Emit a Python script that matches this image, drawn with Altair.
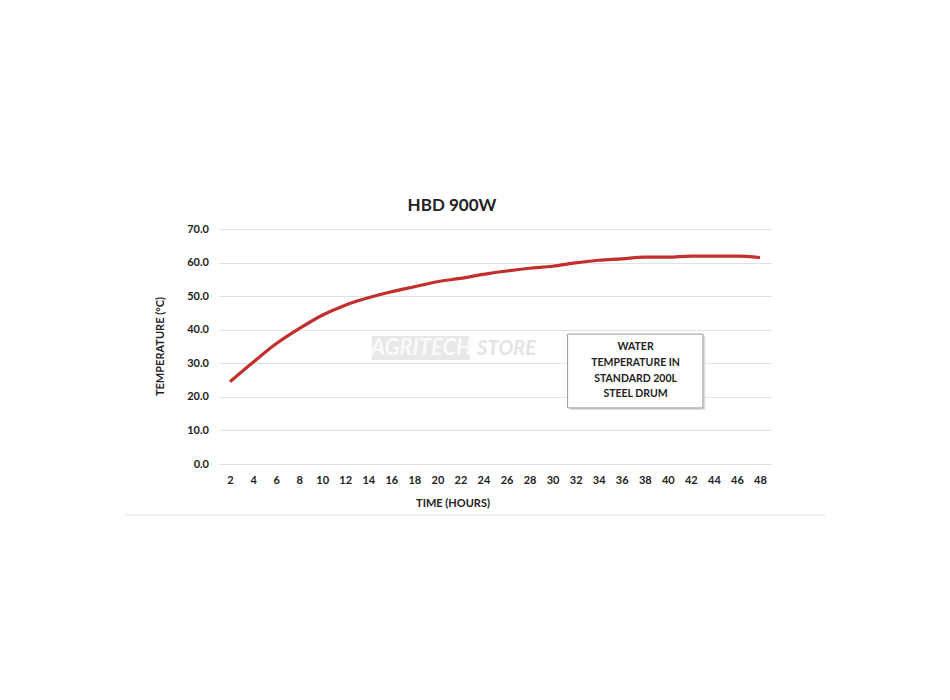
import altair as alt
import pandas as pd

# ---- data ----
hours = [2, 4, 6, 8, 10, 12, 14, 16, 18, 20, 22, 24, 26, 28, 30, 32, 34, 36, 38, 40, 42, 44, 46, 48]
temps = [24.5, 30.3, 35.8, 40.3, 44.3, 47.3, 49.5, 51.3, 52.8, 54.3, 55.3, 56.5,
         57.5, 58.3, 58.9, 59.9, 60.7, 61.1, 61.6, 61.6, 61.9, 61.9, 61.9, 61.5]
y_ticks = [0, 10, 20, 30, 40, 50, 60, 70]
note_lines = ["WATER", "TEMPERATURE IN", "STANDARD 200L", "STEEL DRUM"]

FONT = "Lato"
df = pd.DataFrame({"hours": hours, "temp": temps})

xscale = alt.Scale(domain=[1, 49], nice=False, zero=False)
yscale = alt.Scale(domain=[0, 70], nice=False)

X_AXIS = alt.Axis(values=hours, title="TIME (HOURS)", grid=False, ticks=False, domain=False,
                  labelOverlap=False, labelFont=FONT, labelFontWeight="bold", labelFontSize=11,
                  labelColor="#222", labelPadding=10, titleFont=FONT, titleFontWeight="bold",
                  titleFontSize=11, titleColor="#222", titleX=234, titleY=33,
                  titleAlign="center", titleBaseline="top")
Y_AXIS = alt.Axis(values=y_ticks, format=".1f", title="TEMPERATURE (°C)", grid=True,
                  gridColor="#e2e2e2", gridWidth=1, ticks=False, domain=False,
                  labelOverlap=False, labelFont=FONT, labelFontWeight="bold", labelFontSize=11,
                  labelColor="#222", labelPadding=10, titleFont=FONT, titleFontWeight="bold",
                  titleFontSize=11, titleColor="#222", titleX=-58, titleY=117,
                  titleAlign="center", titleBaseline="middle", titleAngle=-90)


def ax(field):
    return alt.X(field, scale=xscale, axis=X_AXIS)


def ay(field):
    return alt.Y(field, scale=yscale, axis=Y_AXIS)


line = alt.Chart(df).mark_line(color="#c22f2d", strokeWidth=3.2, interpolate="monotone").encode(
    x=ax("hours:Q"), y=ay("temp:Q"))

# watermark
wm_df = pd.DataFrame({"x": [14.3], "x2": [22.8], "y": [38.1], "y2": [31.0]})
wm_rect = alt.Chart(wm_df).mark_rect(color="#e8e8e8").encode(
    x=ax("x:Q"), x2="x2:Q", y=ay("y:Q"), y2="y2:Q")
wm_txt1 = alt.Chart(pd.DataFrame({"x": [18.6], "y": [34.6], "t": ["AGRITECH"]})).mark_text(
    font=FONT, fontSize=22, fontStyle="italic", fontWeight="bold", color="#fafafa").encode(
    x=ax("x:Q"), y=ay("y:Q"), text="t:N")
wm_txt2 = alt.Chart(pd.DataFrame({"x": [26.0], "y": [34.3], "t": ["STORE"]})).mark_text(
    font=FONT, fontSize=20, fontStyle="italic", fontWeight="bold", color="#e4e4e4").encode(
    x=ax("x:Q"), y=ay("y:Q"), text="t:N")

# annotation box
box_df = pd.DataFrame({"x": [31.3], "x2": [43.05], "y": [38.7], "y2": [16.7]})
shadow_df = pd.DataFrame({"x": [31.5], "x2": [43.25], "y": [38.1], "y2": [16.1]})
shadow = alt.Chart(shadow_df).mark_rect(color="#dddddd").encode(
    x=ax("x:Q"), x2="x2:Q", y=ay("y:Q"), y2="y2:Q")
box = alt.Chart(box_df).mark_rect(fill="white", stroke="#9a9a9a", strokeWidth=1).encode(
    x=ax("x:Q"), x2="x2:Q", y=ay("y:Q"), y2="y2:Q")
note_df = pd.DataFrame({"x": [37.2] * 4, "y": [34.9, 30.1, 25.4, 20.9], "t": note_lines})
note = alt.Chart(note_df).mark_text(font=FONT, fontSize=10.5, fontWeight="bold", color="#222").encode(
    x=ax("x:Q"), y=ay("y:Q"), text="t:N")

# faint frame line under the chart
frame = alt.Chart(pd.DataFrame({"a": [0]})).mark_rule(color="#efefef", strokeWidth=2).encode(
    x=alt.value(-93), x2=alt.value(607), y=alt.value(286))

chart = alt.layer(wm_rect, wm_txt1, wm_txt2, line, shadow, box, note, frame).properties(
    width=553, height=235,
    background="white",
    title=alt.TitleParams("HBD 900W", font=FONT, fontSize=17, fontWeight="bold", color="#222",
                          anchor="middle", dx=-43, offset=8),
    autosize=alt.AutoSizeParams(type="none"),
    padding={"left": 210.5, "top": 221, "right": 170, "bottom": 228},
).configure_view(strokeWidth=0, stroke="transparent")

chart.save("out.html", embed_options={"renderer": "svg", "actions": False})
